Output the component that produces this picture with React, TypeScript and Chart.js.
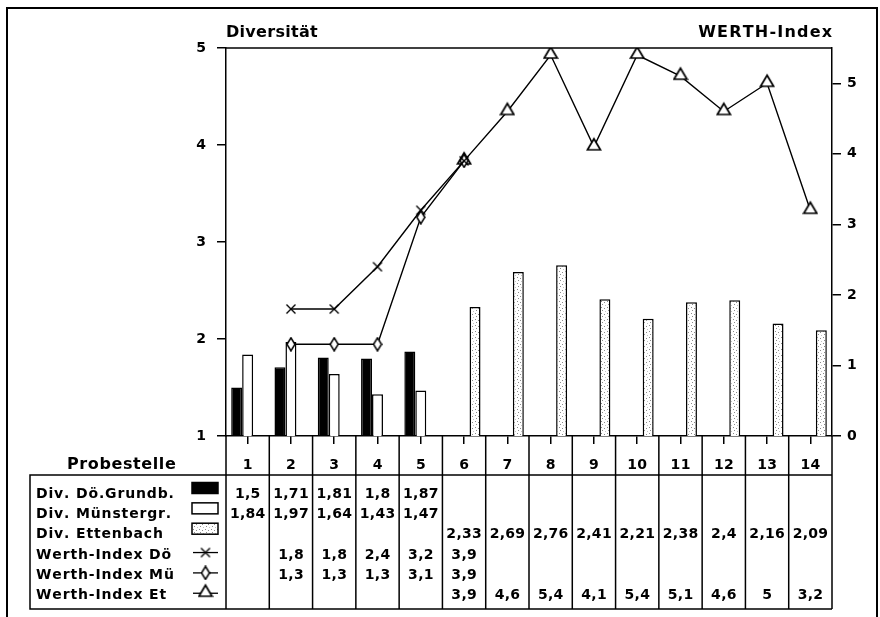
import { useEffect, useRef } from 'react';
import { Chart, registerables } from 'chart.js';

Chart.register(...registerables);

// Sampling sites and measured values
const probestellen = ['1', '2', '3', '4', '5', '6', '7', '8', '9', '10', '11', '12', '13', '14'];
const divDoGrundb = [1.5, 1.71, 1.81, 1.8, 1.87, null, null, null, null, null, null, null, null, null];
const divMuenstergr = [1.84, 1.97, 1.64, 1.43, 1.47, null, null, null, null, null, null, null, null, null];
const divEttenbach = [null, null, null, null, null, 2.33, 2.69, 2.76, 2.41, 2.21, 2.38, 2.4, 2.16, 2.09];
const werthDo = [null, 1.8, 1.8, 2.4, 3.2, 3.9, null, null, null, null, null, null, null, null];
const werthMu = [null, 1.3, 1.3, 1.3, 3.1, 3.9, null, null, null, null, null, null, null, null];
const werthEt = [null, null, null, null, null, 3.9, 4.6, 5.4, 4.1, 5.4, 5.1, 4.6, 5, 3.2];

const divTicks = [1, 2, 3, 4, 5];
const werthTicks = [0, 1, 2, 3, 4, 5];

const FONT = '"DejaVu Sans", "Liberation Sans", sans-serif';

function makeCross(): HTMLCanvasElement {
  const c = document.createElement('canvas');
  c.width = 12;
  c.height = 12;
  const g = c.getContext('2d')!;
  g.strokeStyle = '#000';
  g.lineWidth = 1.4;
  g.beginPath();
  g.moveTo(1.5, 1.5);
  g.lineTo(10.5, 10.5);
  g.moveTo(10.5, 1.5);
  g.lineTo(1.5, 10.5);
  g.stroke();
  return c;
}

function makeDiamond(): HTMLCanvasElement {
  const c = document.createElement('canvas');
  c.width = 10;
  c.height = 15;
  const g = c.getContext('2d')!;
  g.fillStyle = '#fff';
  g.strokeStyle = '#000';
  g.lineWidth = 1.5;
  g.beginPath();
  g.moveTo(5, 1);
  g.lineTo(9, 7.5);
  g.lineTo(5, 14);
  g.lineTo(1, 7.5);
  g.closePath();
  g.fill();
  g.stroke();
  return c;
}

function makeTriangle(): HTMLCanvasElement {
  const c = document.createElement('canvas');
  c.width = 16;
  c.height = 22;
  const g = c.getContext('2d')!;
  g.fillStyle = '#fff';
  g.strokeStyle = '#000';
  g.lineWidth = 1.7;
  g.beginPath();
  g.moveTo(8, 3);
  g.lineTo(14.5, 14);
  g.lineTo(1.5, 14);
  g.closePath();
  g.fill();
  g.stroke();
  return c;
}

function makeStipple(): CanvasPattern {
  const c = document.createElement('canvas');
  c.width = 6;
  c.height = 6;
  const g = c.getContext('2d')!;
  g.fillStyle = '#fff';
  g.fillRect(0, 0, 6, 6);
  g.fillStyle = '#8a8a8a';
  g.fillRect(1, 1, 1, 1);
  g.fillRect(4, 2, 1, 1);
  g.fillRect(2, 4, 1, 1);
  g.fillStyle = '#c4c4c4';
  g.fillRect(5, 5, 1, 1);
  return g.createPattern(c, 'repeat')!;
}

function fmt(v: number): string {
  return String(v).replace('.', ',');
}

function spacedText(
  ctx: CanvasRenderingContext2D,
  text: string,
  x: number,
  y: number,
  size: number,
  spacing: number,
  align: 'left' | 'center' | 'right'
) {
  ctx.font = `bold ${size}px ${FONT}`;
  ctx.textAlign = 'left';
  ctx.textBaseline = 'alphabetic';
  const chars = [...text];
  const widths = chars.map((ch) => ctx.measureText(ch).width);
  const total = widths.reduce((a, b) => a + b, 0) + spacing * (chars.length - 1);
  let cx = align === 'left' ? x : align === 'center' ? x - total / 2 : x - total;
  chars.forEach((ch, i) => {
    ctx.fillText(ch, cx, y);
    cx += widths[i] + spacing;
  });
}

export default function App() {
  const ref = useRef<HTMLCanvasElement>(null);

  useEffect(() => {
    const canvas = ref.current!;
    const cross = makeCross();
    const diamond = makeDiamond();
    const triangle = makeTriangle();
    const stipple = makeStipple();

    const tableRows = [
      { label: 'Div. Dö.Grundb.', values: divDoGrundb, swatch: '#000' as string | CanvasPattern, marker: null as HTMLCanvasElement | null },
      { label: 'Div. Münstergr.', values: divMuenstergr, swatch: '#fff', marker: null },
      { label: 'Div. Ettenbach', values: divEttenbach, swatch: stipple, marker: null },
      { label: 'Werth-Index Dö', values: werthDo, swatch: null, marker: cross },
      { label: 'Werth-Index Mü', values: werthMu, swatch: null, marker: diamond },
      { label: 'Werth-Index Et', values: werthEt, swatch: null, marker: triangle },
    ];

    const tablePlugin = {
      id: 'probeTable',
      beforeDraw(chart: Chart) {
        const { ctx } = chart;
        ctx.save();
        ctx.fillStyle = '#fff';
        ctx.fillRect(0, 0, chart.width, chart.height);
        ctx.restore();
      },
      afterDraw(chart: Chart) {
        const { ctx, chartArea } = chart;
        const xs = chart.scales.x;
        const { left, right, top, bottom } = chartArea;
        const n = probestellen.length;
        const cw = (right - left) / n;
        const tableBottom = 609;
        const boxLeft = 30;
        const boxTop = 475;

        ctx.save();
        ctx.strokeStyle = '#000';
        ctx.fillStyle = '#000';

        // outer frame
        ctx.lineWidth = 2;
        ctx.beginPath();
        ctx.moveTo(7, 617);
        ctx.lineTo(7, 8);
        ctx.lineTo(877, 8);
        ctx.lineTo(877, 617);
        ctx.stroke();

        // top edge of the plot
        ctx.lineWidth = 1.5;
        ctx.beginPath();
        ctx.moveTo(left, top);
        ctx.lineTo(right, top);
        ctx.stroke();

        // axis titles
        spacedText(ctx, 'Diversität', left, 37, 16, 0.3, 'left');
        spacedText(ctx, 'WERTH-Index', right, 37, 16, 1.2, 'right');

        // column rules of the table
        ctx.beginPath();
        for (let k = 0; k <= n; k++) {
          const x = left + k * cw;
          ctx.moveTo(x, bottom);
          ctx.lineTo(x, tableBottom);
        }
        // legend box
        ctx.moveTo(right, boxTop);
        ctx.lineTo(boxLeft, boxTop);
        ctx.lineTo(boxLeft, tableBottom);
        ctx.lineTo(right, tableBottom);
        ctx.stroke();

        // header row
        spacedText(ctx, 'Probestelle', 67, 469, 16, 0.6, 'left');
        probestellen.forEach((lab, i) => {
          spacedText(ctx, lab, xs.getPixelForTick(i), 469, 14, 0.3, 'center');
        });

        // legend rows and values
        tableRows.forEach((row, r) => {
          const cy = 492.5 + r * 20.35;
          const base = cy + 5;
          spacedText(ctx, row.label, 36, base, 14, 0.85, 'left');

          if (row.swatch) {
            ctx.fillStyle = row.swatch as any;
            ctx.fillRect(192, cy - 10, 26, 11);
            ctx.strokeStyle = '#000';
            ctx.lineWidth = 1.5;
            ctx.strokeRect(192, cy - 10, 26, 11);
            ctx.fillStyle = '#000';
          }
          if (row.marker) {
            const my = cy - 1;
            ctx.lineWidth = 1.3;
            ctx.beginPath();
            ctx.moveTo(193, my);
            ctx.lineTo(218, my);
            ctx.stroke();
            const m = row.marker;
            ctx.drawImage(m, 205.5 - m.width / 2, my - m.height / 2);
          }

          row.values.forEach((v, i) => {
            if (v === null || v === undefined) return;
            spacedText(ctx, fmt(v), xs.getPixelForTick(i), base, 14, 0.3, 'center');
          });
        });

        ctx.restore();
      },
    };

    const tickFont = { family: FONT, size: 14, weight: 'bold' as const };

    const lineBase = {
      type: 'line',
      yAxisID: 'y2',
      borderColor: '#000',
      borderWidth: 1.4,
      pointRadius: 5,
      fill: false,
      tension: 0,
      spanGaps: false,
    };
    const barBase = {
      type: 'bar',
      yAxisID: 'y',
      borderColor: '#000',
      borderWidth: 1.5,
      categoryPercentage: 0.76,
      barPercentage: 1,
    };

    const chart = new Chart(canvas, {
      type: 'bar',
      data: {
        labels: probestellen,
        datasets: [
          { ...lineBase, label: 'Werth-Index Dö', data: werthDo, pointStyle: cross },
          { ...lineBase, label: 'Werth-Index Mü', data: werthMu, pointStyle: diamond },
          { ...lineBase, label: 'Werth-Index Et', data: werthEt, pointStyle: triangle },
          { ...barBase, label: 'Div. Dö.Grundb.', data: divDoGrundb, backgroundColor: '#000' },
          { ...barBase, label: 'Div. Münstergr.', data: divMuenstergr, backgroundColor: '#fff' },
          { ...barBase, label: 'Div. Ettenbach', data: divEttenbach, backgroundColor: stipple },
        ] as any,
      },
      options: {
        responsive: false,
        animation: false,
        layout: { padding: { top: 48, left: 0, right: 0, bottom: 0 } },
        plugins: {
          legend: { display: false },
          tooltip: { enabled: false },
        },
        scales: {
          x: {
            offset: true,
            grid: {
              display: true,
              offset: false,
              drawOnChartArea: false,
              drawTicks: true,
              tickLength: 8,
              color: '#000',
              lineWidth: 1.5,
            },
            border: { display: true, color: '#000', width: 1.5 },
            ticks: { display: false },
            afterFit: (s: any) => {
              s.height = 617 - 436;
            },
          },
          y: {
            position: 'left',
            min: 1,
            max: 5,
            afterBuildTicks: (s: any) => {
              s.ticks = divTicks.map((v) => ({ value: v }));
            },
            ticks: { color: '#000', font: tickFont, padding: 11 },
            grid: {
              display: true,
              drawOnChartArea: false,
              drawTicks: true,
              tickLength: 9,
              color: '#000',
              lineWidth: 1.5,
            },
            border: { display: true, color: '#000', width: 1.5 },
            afterFit: (s: any) => {
              s.width = 226;
            },
          },
          y2: {
            position: 'right',
            min: 0,
            max: 5.5,
            afterBuildTicks: (s: any) => {
              s.ticks = werthTicks.map((v) => ({ value: v }));
            },
            ticks: { color: '#000', font: tickFont, padding: 6 },
            grid: {
              display: true,
              drawOnChartArea: false,
              drawTicks: true,
              tickLength: 9,
              color: '#000',
              lineWidth: 1.5,
            },
            border: { display: true, color: '#000', width: 1.5 },
            afterFit: (s: any) => {
              s.width = 880 - 832;
            },
          },
        },
      } as any,
      plugins: [tablePlugin as any],
    });

    return () => chart.destroy();
  }, []);

  return (
    <div style={{ position: 'fixed', left: 0, top: 0, width: 880, height: 617, background: '#fff' }}>
      <canvas ref={ref} width={880} height={617} style={{ width: 880, height: 617, display: 'block' }} />
    </div>
  );
}
